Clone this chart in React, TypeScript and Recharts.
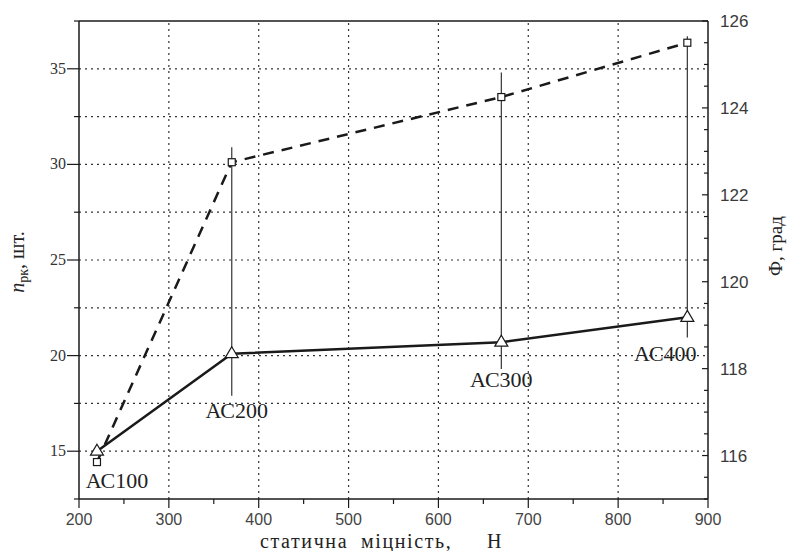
import { LineChart, Line, XAxis, YAxis, ErrorBar, LabelList, ReferenceLine } from 'recharts';

// static strength, N
const strength = [220, 370, 670, 877];
// n_рк, pcs (left axis)
const grainCount = [15, 20.1, 20.7, 22];
// Ф, degrees (right axis)
const angle = [115.85, 122.75, 124.25, 125.5];
// spread of n_рк around the point
const spreadLow = [0, 2.2, 1.4, 1.05];
const spreadHigh = [0, 10.8, 14.1, 14.7];
const grades = ['АС100', 'АС200', 'АС300', 'АС400'];

const xTicks = [200, 250, 300, 350, 400, 450, 500, 550, 600, 650, 700, 750, 800, 850, 900];
const leftTicks = [12.5, 15, 17.5, 20, 22.5, 25, 27.5, 30, 32.5, 35, 37.5];
const rightTicks = [
  115, 115.5, 116, 116.5, 117, 117.5, 118, 118.5, 119, 119.5, 120, 120.5,
  121, 121.5, 122, 122.5, 123, 123.5, 124, 124.5, 125, 125.5, 126,
];
const gridX = [300, 400, 500, 600, 700, 800];
const gridY = [15, 17.5, 20, 22.5, 25, 27.5, 30, 32.5, 35];

const data = strength.map((x, i) => ({
  x,
  count: grainCount[i],
  angle: angle[i],
  spread: [spreadLow[i], spreadHigh[i]],
  grade: grades[i],
}));

const SERIF = '"Liberation Serif", "Times New Roman", serif';
const SANS = '"Liberation Sans", Arial, sans-serif';
const INK = '#1a1a1a';

// label offsets from the point, px
const gradeOffsets = [
  [20, 29],
  [5, 57],
  [0, 37],
  [-22, 36],
];

const LeftTick = (props: any) => {
  const { x, y, payload } = props;
  const major = payload.value % 5 === 0;
  return (
    <g>
      <line x1={x - (major ? 12 : 5)} y1={y} x2={x} y2={y} stroke={INK} strokeWidth={1.2} />
      {major && (
        <text x={x - 13} y={y} dy={5} textAnchor="end" fontFamily={SERIF} fontSize={16} fill="#333">
          {payload.value}
        </text>
      )}
    </g>
  );
};

const RightTick = (props: any) => {
  const { x, y, payload } = props;
  const major = payload.value % 2 === 0;
  return (
    <g>
      <line x1={x - (major ? 6 : 4)} y1={y} x2={x} y2={y} stroke={INK} strokeWidth={1.2} />
      {major && (
        <text x={x + 12} y={y} dy={6} textAnchor="start" fontFamily={SANS} fontSize={17} fill="#3a3a3a">
          {payload.value}
        </text>
      )}
    </g>
  );
};

const BottomTick = (props: any) => {
  const { x, y, payload } = props;
  const major = payload.value % 100 === 0;
  return (
    <g>
      <line x1={x} y1={y} x2={x} y2={y + (major ? 9 : 5)} stroke={INK} strokeWidth={1.2} />
      {major && (
        <text x={x} y={y + 26} textAnchor="middle" fontFamily={SANS} fontSize={16} fill="#444">
          {payload.value}
        </text>
      )}
    </g>
  );
};

const TriangleDot = (props: any) => {
  const { cx, cy } = props;
  if (cx == null || cy == null) return null;
  return (
    <path
      d={`M${cx},${cy - 7} L${cx + 6.5},${cy + 4} L${cx - 6.5},${cy + 4} Z`}
      fill="#fff"
      stroke={INK}
      strokeWidth={1.2}
    />
  );
};

const SquareDot = (props: any) => {
  const { cx, cy } = props;
  if (cx == null || cy == null) return null;
  return <rect x={cx - 3.5} y={cy - 3.5} width={7} height={7} fill="#fff" stroke={INK} strokeWidth={1.2} />;
};

const GradeLabel = (props: any) => {
  const { x, y, value, index } = props;
  const [dx, dy] = gradeOffsets[index] || [0, 0];
  return (
    <text
      x={x + dx}
      y={y + dy}
      dy="0.35em"
      textAnchor="middle"
      fontFamily={SERIF}
      fontSize={22}
      fill="#222"
    >
      {value}
    </text>
  );
};

const LeftTitle = () => (
  <text
    x={24}
    y={262}
    transform="rotate(-90, 24, 262)"
    textAnchor="middle"
    fontFamily={SERIF}
    fontSize={20}
    fill="#222"
  >
    <tspan fontStyle="italic">n</tspan>
    <tspan fontSize={14} dy={4}>рк</tspan>
    <tspan dy={-4}>, шт.</tspan>
  </text>
);

const RightTitle = () => (
  <text
    x={782}
    y={246}
    transform="rotate(-90, 782, 246)"
    textAnchor="middle"
    fontFamily={SERIF}
    fontSize={19}
    fill="#222"
  >
    Ф, град
  </text>
);

const BottomTitle = () => (
  <text y={548} fontFamily={SERIF} fontSize={20} fill="#222" letterSpacing={1.6}>
    <tspan x={260}>статична</tspan>
    <tspan x={361}>міцність,</tspan>
    <tspan x={487}>Н</tspan>
  </text>
);

export default function App() {
  return (
    <div style={{ position: 'absolute', left: 0, top: 0, background: '#fff' }}>
      <LineChart width={788} height={551} data={data} margin={{ top: 21, right: 20, bottom: 22, left: 0 }}>
        <XAxis
          dataKey="x"
          type="number"
          domain={[200, 900]}
          ticks={xTicks}
          interval={0}
          tickSize={0}
          tickMargin={0}
          tick={<BottomTick />}
          axisLine={{ stroke: INK, strokeWidth: 1.5 }}
          tickLine={false}
          height={30}
        />
        <YAxis
          yAxisId="left"
          type="number"
          domain={[12.5, 37.5]}
          ticks={leftTicks}
          interval={0}
          tickSize={0}
          tickMargin={0}
          tick={<LeftTick />}
          axisLine={{ stroke: INK, strokeWidth: 1.5 }}
          tickLine={false}
          width={79}
        />
        <YAxis
          yAxisId="right"
          orientation="right"
          type="number"
          domain={[115, 126]}
          ticks={rightTicks}
          interval={0}
          tickSize={0}
          tickMargin={0}
          tick={<RightTick />}
          axisLine={{ stroke: INK, strokeWidth: 1.5 }}
          tickLine={false}
          width={60}
        />
        {gridX.map((v) => (
          <ReferenceLine key={`gx${v}`} x={v} yAxisId="left" stroke="#333" strokeWidth={1.2} strokeDasharray="2 4" />
        ))}
        {gridY.map((v) => (
          <ReferenceLine key={`gy${v}`} y={v} yAxisId="left" stroke="#333" strokeWidth={1.2} strokeDasharray="2 4" />
        ))}
        <ReferenceLine y={37.5} yAxisId="left" stroke={INK} strokeWidth={1.5} />
        <Line
          yAxisId="right"
          dataKey="angle"
          stroke={INK}
          strokeWidth={2.5}
          strokeDasharray="11 8"
          dot={<SquareDot />}
          activeDot={false}
          isAnimationActive={false}
        />
        <Line
          yAxisId="left"
          dataKey="count"
          stroke={INK}
          strokeWidth={2.5}
          dot={<TriangleDot />}
          activeDot={false}
          isAnimationActive={false}
        >
          <ErrorBar dataKey="spread" width={0} stroke="#333" strokeWidth={1.2} direction="y" />
          <LabelList dataKey="grade" content={<GradeLabel />} />
        </Line>
        <LeftTitle />
        <RightTitle />
        <BottomTitle />
      </LineChart>
    </div>
  );
}
